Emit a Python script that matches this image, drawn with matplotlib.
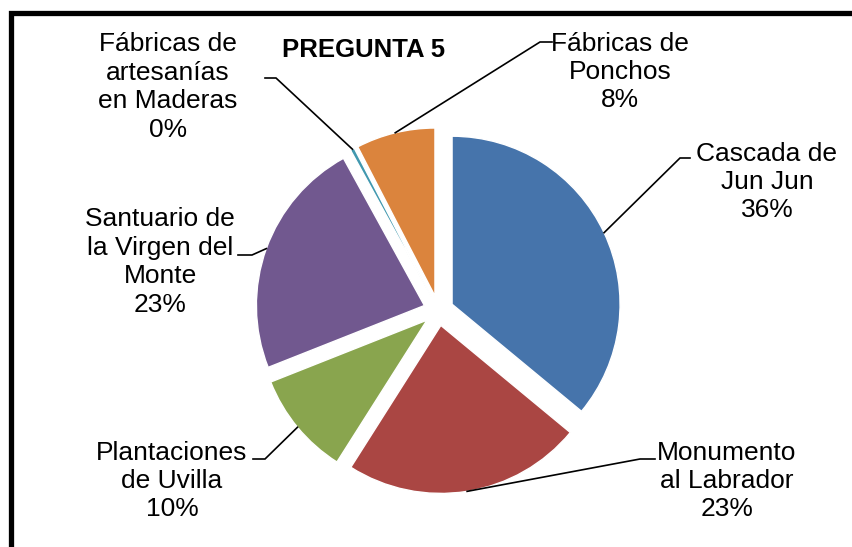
import matplotlib.pyplot as plt
import numpy as np
from matplotlib.patches import Rectangle

plt.rcParams['font.family'] = ['Liberation Sans', 'DejaVu Sans']

# datos de la pregunta 5
categorias = ['Cascada de\nJun Jun', 'Monumento\nal Labrador', 'Plantaciones\nde Uvilla',
              'Santuario de\nla Virgen del\nMonte', 'Fábricas de\nartesanías\nen Maderas',
              'Fábricas de\nPonchos']
porcentajes = [36.0, 23.0, 10.0, 23.0, 0.4, 7.6]
colores = ['#4674AB', '#AA4643', '#89A54E', '#71588F', '#4198AF', '#DB843D']
titulo = 'PREGUNTA 5'

W, H = 852, 547
fig = plt.figure(figsize=(W / 100, H / 100), dpi=100)
ax = fig.add_axes([0, 0, 1, 1])

# pie in pixel units (y up)
cx, cy, r = 438.5, H - 310.6, 168
wedges, _ = ax.pie(porcentajes, colors=colores, startangle=90, counterclock=False,
                   center=(cx, cy), radius=r, explode=[15] * len(porcentajes),
                   wedgeprops=dict(edgecolor='white', linewidth=1))
ax.set_xlim(0, W)
ax.set_ylim(0, H)
ax.set_axis_off()

# label layout: text center (x, y from top), stub outer x, stub inner x, stub y
layout = [
    (767, 182, 690, 680, 158),
    (727, 481, 655, 640, 459),
    (172, 481, 253, 265, 459),
    (160, 262, 238, 252, 255),
    (168, 87, 265, 276, 78),
    (620, 72, 552, 540, 42),
]

for w, cat, p, (tx, ty, sx0, sx1, sy) in zip(wedges, categorias, porcentajes, layout):
    ax.text(tx, H - ty, f'{cat}\n{p:.0f}%', ha='center', va='center',
            fontsize=19, linespacing=1.23)
    th = np.deg2rad((w.theta1 + w.theta2) / 2)
    px = w.center[0] + w.r * np.cos(th)
    py = w.center[1] + w.r * np.sin(th)
    ax.plot([sx0, sx1, px], [H - sy, H - sy, py], color='black', lw=1.2,
            solid_joinstyle='miter')

ax.text(364, H - 50, titulo, ha='center', va='center', fontsize=18.5, fontweight='bold')

# thick frame (right and bottom sides fall outside the image)
ax.add_patch(Rectangle((10.5, -100), 1000, H - 12.5 + 100, fill=False,
                       edgecolor='black', lw=3.8, clip_on=False))

fig.savefig('out.png', dpi=100)
